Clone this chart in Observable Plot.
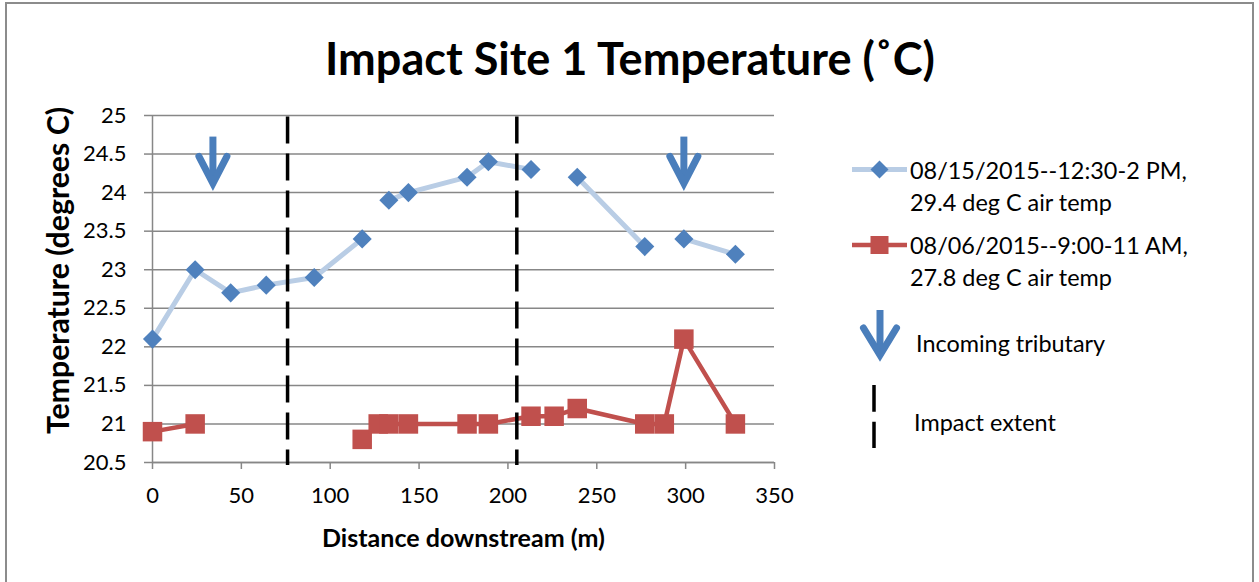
<!DOCTYPE html>
<html>
<head>
<meta charset="utf-8">
<script src="https://cdn.jsdelivr.net/npm/d3@7"></script>
<script src="https://cdn.jsdelivr.net/npm/@observablehq/plot@0.6"></script>
<style>
  body { margin: 0; background: #fff; }
  #wrap { position: relative; width: 1259px; height: 582px; overflow: hidden; background: #fff; font-family: Lato, "Open Sans", sans-serif; }
  #frame { position: absolute; left: 5px; top: 2px; width: 1249px; height: 600px; border: 2px solid #8c8c8c; box-sizing: border-box; }
  #chart { position: absolute; left: 0; top: 0; }
  #ann { position: absolute; left: 0; top: 0; pointer-events: none; }
</style>
</head>
<body>
<div id="wrap">
  <div id="frame"></div>
  <div id="chart"></div>
  <svg id="ann" width="1259" height="582" xmlns="http://www.w3.org/2000/svg"></svg>
</div>
<script>
// ---- data ----
const distance  = [0, 24, 44, 64, 91, 118, 127, 133, 144, 177, 189, 213, 226, 239, 277, 288, 299, 328];
const temp0815  = [22.1, 23.0, 22.7, 22.8, 22.9, 23.4, null, 23.9, 24.0, 24.2, 24.4, 24.3, null, 24.2, 23.3, null, 23.4, 23.2];
const temp0806  = [20.9, 21.0, null, null, null, 20.8, 21.0, 21.0, 21.0, 21.0, 21.0, 21.1, 21.1, 21.2, 21.0, 21.0, 22.1, 21.0];
const xTicks = [0, 50, 100, 150, 200, 250, 300, 350];
const yTicks = [20.5, 21, 21.5, 22, 22.5, 23, 23.5, 24, 24.5, 25];
const impactExtent = [76, 205];        // dashed lines (m)
const tributaries = [34, 299];         // incoming tributary arrows (m)
const arrowTop = 24.72, arrowTip = 24.12;
const dashTop = 24.98, dashBottom = 20.46;

const titleText = "Impact Site 1 Temperature (\u02DAC)";
const xLabel = "Distance downstream (m)";
const yLabel = "Temperature (degrees C)";
const label0815 = ["08/15/2015--12:30-2 PM,", "29.4 deg C air temp"];
const label0806 = ["08/06/2015--9:00-11 AM,", "27.8 deg C air temp"];
const labelTrib = "Incoming tributary";
const labelImpact = "Impact extent";

const BLUE_LINE = "#b9cde5", BLUE = "#4f81bd", RED = "#c0504d", ARROW = "#4a7ebb", GRID = "#878787";

const rows = distance.map((d, i) => ({d, a: temp0815[i] ?? NaN, b: temp0806[i] ?? NaN}));

const chevron = {
  draw(ctx) {
    ctx.moveTo(-14, -27);
    ctx.lineTo(0, 0);
    ctx.lineTo(14, -27);
  }
};

const W = 1259, H = 582;
const plot = Plot.plot({
  width: W, height: H,
  marginLeft: 152, marginRight: W - 774, marginTop: 115, marginBottom: H - 462,
  style: {fontFamily: "Lato, sans-serif", fontSize: "22px", background: "transparent", color: "black"},
  x: {domain: [0, 350], label: null},
  y: {domain: [20.5, 25], label: null},
  marks: [
    Plot.gridY(yTicks, {stroke: GRID, strokeOpacity: 1, strokeWidth: 1.5}),
    Plot.axisY(yTicks, {tickSize: 8, tickPadding: 18, stroke: GRID, strokeWidth: 1.5, fill: "black", tickFormat: d => String(d), label: null}),
    Plot.axisX(xTicks, {tickSize: 7, tickPadding: 18, stroke: GRID, strokeWidth: 1.5, fill: "black", tickFormat: d => String(d), label: null}),
    Plot.ruleX([0], {stroke: GRID, strokeWidth: 1.5}),
    Plot.ruleY([20.5], {stroke: GRID, strokeWidth: 1.5}),
    Plot.line(rows, {x: "d", y: "a", stroke: BLUE_LINE, strokeWidth: 5}),
    Plot.line(rows, {x: "d", y: "b", stroke: RED, strokeWidth: 4.5}),
    Plot.ruleX(impactExtent, {y1: dashTop, y2: dashBottom, stroke: "black", strokeWidth: 3.5, strokeDasharray: "27,10"}),
    Plot.dot(rows, {x: "d", y: "a", symbol: "diamond2", r: 8.6, fill: BLUE, stroke: "none"}),
    Plot.dot(rows, {x: "d", y: "b", symbol: "square", r: 11, fill: RED, stroke: "none"}),
    Plot.ruleX(tributaries, {y1: arrowTop, y2: arrowTip, stroke: ARROW, strokeWidth: 7}),
    Plot.dot(tributaries, {x: d => d, y: arrowTip, symbol: chevron, fill: "none", stroke: ARROW, strokeWidth: 7, strokeLinecap: "round", strokeLinejoin: "miter"})
  ]
});
document.getElementById("chart").appendChild(plot);

// ---- annotations: title, axis titles, legend ----
const ann = d3.select("#ann");
function txt(s, x, y, size, opts = {}) {
  const t = ann.append("text").attr("x", x).attr("y", y)
    .attr("font-family", "Lato, sans-serif").attr("font-size", size)
    .attr("dominant-baseline", "central")
    .attr("text-anchor", opts.anchor || "start")
    .attr("font-weight", opts.bold ? "bold" : "normal")
    .attr("fill", "black").text(s);
  if (opts.rotate) t.attr("transform", `rotate(${opts.rotate},${x},${y})`);
  return t;
}
function fit(t, target) {
  const w = t.node().getComputedTextLength();
  const fs = parseFloat(t.attr("font-size"));
  const n = fs * target / w;
  t.attr("font-size", n);
  return n;
}
fit(txt(titleText, 630, 58, 40, {anchor: "middle", bold: true}), 610);
fit(txt(xLabel, 463.5, 537, 22, {anchor: "middle", bold: true}), 283);
fit(txt(yLabel, 57, 270.5, 22, {anchor: "middle", bold: true, rotate: -90}), 327);

// legend
const l1 = txt(label0815[0], 910, 170, 24);
const fs = fit(l1, 277);
txt(label0815[1], 910, 201.7, fs);
txt(label0806[0], 910, 245, fs);
txt(label0806[1], 910, 276.5, fs);
txt(labelTrib, 916, 342.7, fs);
txt(labelImpact, 914, 421.7, fs);

ann.append("line").attr("x1", 852).attr("x2", 907).attr("y1", 169.5).attr("y2", 169.5).attr("stroke", BLUE_LINE).attr("stroke-width", 5);
ann.append("path").attr("d", "M879.5,160.5L888.5,169.5L879.5,178.5L870.5,169.5Z").attr("fill", BLUE);
ann.append("line").attr("x1", 852).attr("x2", 907).attr("y1", 245).attr("y2", 245).attr("stroke", RED).attr("stroke-width", 4.5);
ann.append("rect").attr("x", 870.5).attr("y", 236).attr("width", 18).attr("height", 18).attr("fill", RED);
ann.append("line").attr("x1", 880).attr("x2", 880).attr("y1", 310).attr("y2", 352).attr("stroke", ARROW).attr("stroke-width", 7);
ann.append("path").attr("d", "M863.5,328L880,355L896.5,328").attr("fill", "none").attr("stroke", ARROW).attr("stroke-width", 7).attr("stroke-linecap", "round");
ann.append("line").attr("x1", 874).attr("x2", 874).attr("y1", 385).attr("y2", 448).attr("stroke", "black").attr("stroke-width", 3.5).attr("stroke-dasharray", "26.7,10");
</script>
</body>
</html>
